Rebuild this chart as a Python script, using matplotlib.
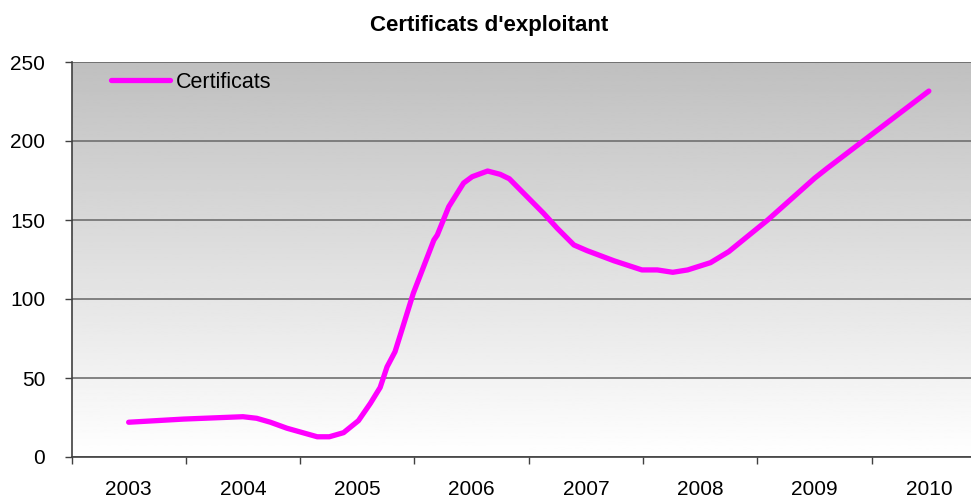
"""Certificats d'exploitant - line chart with gradient plot area."""

import matplotlib

matplotlib.use("Agg")
import matplotlib.pyplot as plt
import numpy as np

plt.rcParams["font.family"] = ["Liberation Sans", "DejaVu Sans"]

YEARS = ["2003", "2004", "2005", "2006", "2007", "2008", "2009", "2010"]

# position along the category axis (0 = 2003) and value
POS = [0.00, 0.48, 1.00, 1.12, 1.24, 1.385, 1.65, 1.755, 1.88, 2.01, 2.115,
       2.20, 2.26, 2.33, 2.39, 2.49, 2.67, 2.70, 2.80, 2.93, 3.005, 3.14,
       3.25, 3.33, 3.63, 3.75, 3.895, 4.01, 4.245, 4.49, 4.625, 4.76, 4.89,
       5.09, 5.25, 5.59, 6.00, 6.11, 7.00]
CERTS = [22, 24, 25.5, 24.5, 22, 18.2, 12.8, 12.8, 15.4, 23, 34,
         44, 57, 66.6, 80.4, 103.6, 137.3, 140.5, 158.4, 173.4, 177.4, 181,
         178.9, 176.1, 154.2, 144.7, 134.2, 130.6, 124.2, 118.4, 118.4, 116.9, 118.4,
         123, 130, 150, 176.4, 182.7, 231.6]

LINE = "#FF00FF"
GRID = "#707070"


def main():
    fig = plt.figure(figsize=(9.71, 4.97), dpi=100)
    fig.patch.set_facecolor("white")
    ax = fig.add_axes([71.5 / 971, 1 - 457 / 497, (986 - 71.5) / 971, (457 - 62) / 497])

    # grey-to-white gradient behind the plot
    grad = np.linspace(0.75, 1.0, 256).reshape(-1, 1)
    ax.imshow(grad, extent=[0, 1, 0, 1], transform=ax.transAxes, aspect="auto",
              cmap="gray", vmin=0, vmax=1, zorder=0, origin="upper")

    ax.set_xlim(-0.5, len(YEARS) - 0.5)
    ax.set_ylim(0, 250)

    ax.set_yticks(range(0, 251, 50))
    ax.yaxis.grid(True, color=GRID, linewidth=1.2, zorder=1)
    ax.set_axisbelow(True)
    ax.tick_params(axis="y", direction="out", length=5, width=1, color="#404040",
                   labelsize=15, pad=14)

    ax.set_xticks(np.arange(-0.5, len(YEARS)), labels=[""] * (len(YEARS) + 1))
    ax.set_xticks(range(len(YEARS)), labels=YEARS, minor=True)
    ax.tick_params(axis="x", which="major", direction="out", length=5, width=1,
                   color="#404040")
    ax.tick_params(axis="x", which="minor", length=0, labelsize=15, pad=16.5)

    for side in ("top", "right"):
        ax.spines[side].set_visible(False)
    for side in ("left", "bottom"):
        ax.spines[side].set_color("#404040")
        ax.spines[side].set_linewidth(1.2)
    ax.axhline(250, color=GRID, linewidth=1.2, zorder=1)

    ax.plot(POS, CERTS, color=LINE, linewidth=3.8, solid_joinstyle="round",
            solid_capstyle="round", label="Certificats", zorder=3)

    leg = ax.legend(loc="center left",
                    bbox_to_anchor=((111 - 71.5) / 914.5, (457 - 82) / 395),
                    frameon=False, fontsize=15.5, handlelength=2.75,
                    handletextpad=0.25, borderpad=0, borderaxespad=0)
    leg.set_zorder(4)

    fig.text(489 / 971, 1 - 26 / 497, "Certificats d'exploitant", ha="center",
             va="center", fontsize=16, fontweight="bold")

    fig.savefig("out.png", dpi=100, facecolor="white")
    plt.close(fig)


if __name__ == "__main__":
    main()
